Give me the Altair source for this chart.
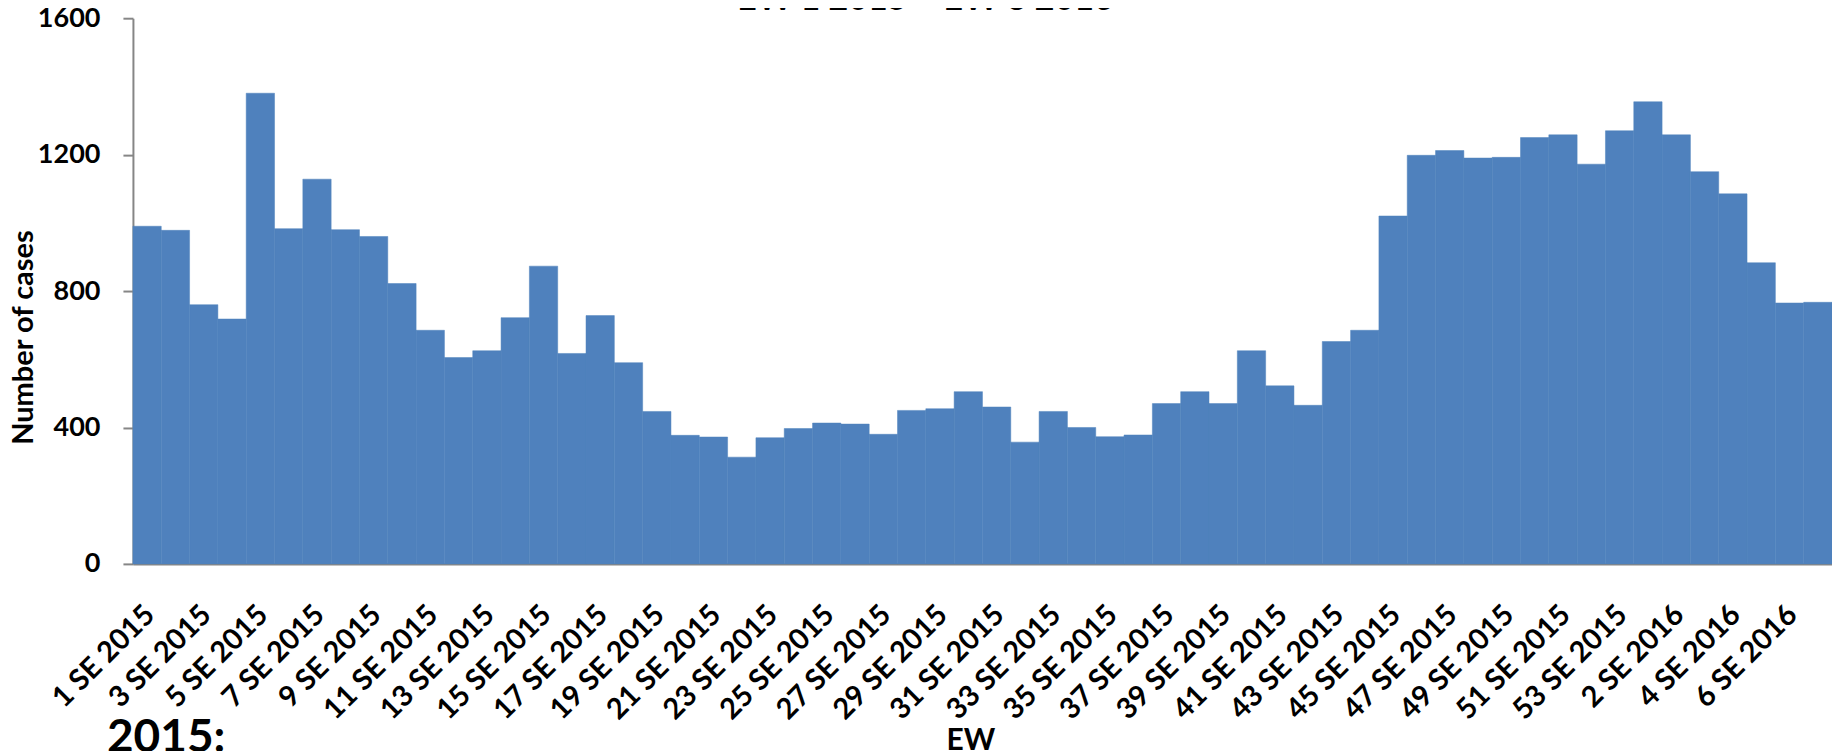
import altair as alt
import pandas as pd

# ---- data ----
weeks_2015 = list(range(1, 54))
weeks_2016 = list(range(1, 8))
week_labels = [f"{w} SE 2015" for w in weeks_2015] + [f"{w} SE 2016" for w in weeks_2016]

cases = [990, 978, 760, 718, 1380, 983, 1128, 980, 960, 822,
         685, 605, 625, 722, 873, 617, 728, 590, 447, 377,
         372, 313, 370, 397, 413, 410, 380, 450, 455, 505,
         460, 357, 447, 400, 373, 378, 470, 505, 470, 625,
         522, 465, 652, 685, 1020, 1198, 1212, 1190, 1192, 1250,
         1258, 1172, 1270, 1355, 1258, 1150, 1085, 883, 765, 767]

tick_labels = week_labels[::2]
y_ticks = [0, 400, 800, 1200, 1600]

title_text = ["EW 1 2015 \u2013 EW 8 2016"]
note_text = ["2015:"]

df = pd.DataFrame({"week": week_labels, "cases": cases})
title_df = pd.DataFrame({"t": title_text})
note_df = pd.DataFrame({"t": note_text})

BLUE = "#4F81BD"
GREY = "#868686"
FONT = "Lato"

bars = alt.Chart(df).mark_bar(color=BLUE, stroke=BLUE, strokeWidth=0.5).encode(
    x=alt.X("week:N", sort=week_labels,
            scale=alt.Scale(paddingInner=0, paddingOuter=0),
            axis=alt.Axis(values=tick_labels, labelAngle=-45, labelAlign="right",
                          labelBaseline="top", labelPadding=36, labelOffset=-7,
                          ticks=False, tickSize=0, labelOverlap=False,
                          labelFontSize=29, labelFontWeight="bold", labelColor="black",
                          labelFont=FONT,
                          domainColor=GREY, domainWidth=2,
                          title="EW", titleFont=FONT, titleFontSize=30, titleFontWeight="bold",
                          titleColor="black", titleX=838, titleY=186,
                          titleAlign="center", titleBaseline="alphabetic")),
    y=alt.Y("cases:Q", scale=alt.Scale(domain=[0, 1600], nice=False),
            axis=alt.Axis(values=y_ticks, format="d", grid=False, tickSize=10, tickWidth=2,
                          tickColor=GREY, domainColor=GREY, domainWidth=2,
                          labelFontSize=27, labelFontWeight="bold", labelColor="black",
                          labelFont=FONT, labelPadding=23,
                          title="Number of cases", titleFont=FONT, titleFontSize=29,
                          titleFontWeight="bold", titleColor="black",
                          titleAngle=270, titleX=-100, titleY=319,
                          titleAlign="center", titleBaseline="alphabetic")),
)

title_layer = alt.Chart(title_df).mark_text(
    font=FONT, fontSize=34, fontWeight="bold", color="black",
    align="center", baseline="alphabetic").encode(
    text="t:N", x=alt.value(793), y=alt.value(-8))

note_layer = alt.Chart(note_df).mark_text(
    font=FONT, fontSize=46, fontWeight="bold", color="black",
    align="left", baseline="alphabetic").encode(
    text="t:N", x=alt.value(-26), y=alt.value(734))

chart = alt.layer(bars, title_layer, note_layer).properties(
    width=1700, height=546,
    autosize=alt.AutoSizeParams(type="none"),
    padding={"left": 125, "top": 10, "right": 0, "bottom": 187},
    background="white",
).configure_view(strokeWidth=0)

chart.save("out.html", embed_options={"renderer": "svg", "actions": False})
